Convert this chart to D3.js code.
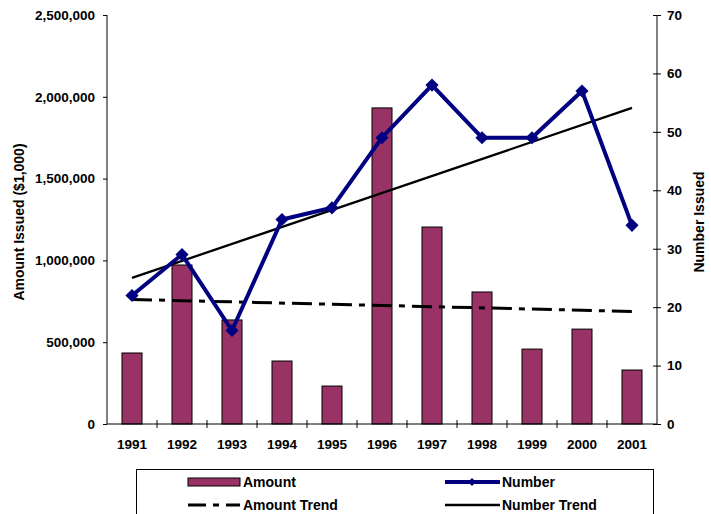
<!DOCTYPE html>
<html>
<head>
<meta charset="utf-8">
<script src="https://cdn.jsdelivr.net/npm/d3@7"></script>
<style>
  body { margin: 0; background: #fff; }
  text { font-family: Arial, "Liberation Sans", sans-serif; font-weight: bold; fill: #000; }
</style>
</head>
<body>
<div id="chart"></div>
<script>
// data
var years = ["1991","1992","1993","1994","1995","1996","1997","1998","1999","2000","2001"];
var amount = [434000, 972000, 636000, 385000, 232000, 1932000, 1204000, 807000, 458000, 580000, 330000];
var number = [22, 29, 16, 35, 37, 49, 58, 49, 49, 57, 34];
var leftTicks = [0, 500000, 1000000, 1500000, 2000000, 2500000];
var rightTicks = [0, 10, 20, 30, 40, 50, 60, 70];

var width = 711, height = 514;
var margin = {left: 107, right: 54, top: 15, bottom: 90};

var svg = d3.select("#chart").append("svg")
    .attr("width", width)
    .attr("height", height);

var x = d3.scaleBand()
    .domain(years)
    .range([margin.left, width - margin.right]);

var yLeft = d3.scaleLinear()
    .domain([0, 2500000])
    .range([height - margin.bottom, margin.top]);

var yRight = d3.scaleLinear()
    .domain([0, 70])
    .range([height - margin.bottom, margin.top]);

var cx = function(d, i) { return x(years[i]) + x.bandwidth() / 2; };

// linear trend (least squares), like the spreadsheet trendline
function trend(vals) {
    var n = vals.length, mx = (n - 1) / 2, my = d3.mean(vals);
    var num = 0, den = 0;
    vals.forEach(function(v, i) { num += (i - mx) * (v - my); den += (i - mx) * (i - mx); });
    var b = num / den, a = my - b * mx;
    return [a, a + b * (n - 1)];
}

// bars
svg.selectAll(".bar")
    .data(amount)
    .enter().append("rect")
    .attr("class", "bar")
    .attr("x", function(d, i) { return cx(d, i) - 10; })
    .attr("width", 20)
    .attr("y", function(d) { return yLeft(d); })
    .attr("height", function(d) { return yLeft(0) - yLeft(d); })
    .attr("fill", "#993366")
    .attr("stroke", "#000")
    .attr("stroke-width", 1);

// amount trend
var at = trend(amount);
svg.append("line")
    .attr("x1", cx(null, 0)).attr("x2", cx(null, years.length - 1))
    .attr("y1", yLeft(at[0])).attr("y2", yLeft(at[1]))
    .attr("stroke", "#000")
    .attr("stroke-width", 3)
    .attr("stroke-dasharray", "20,7,6,7");

// number trend
var nt = trend(number);
svg.append("line")
    .attr("x1", cx(null, 0)).attr("x2", cx(null, years.length - 1))
    .attr("y1", yRight(nt[0])).attr("y2", yRight(nt[1]))
    .attr("stroke", "#000")
    .attr("stroke-width", 2.3);

// number line
var line = d3.line()
    .x(function(d, i) { return cx(d, i); })
    .y(function(d) { return yRight(d); });

svg.append("path")
    .datum(number)
    .attr("d", line)
    .attr("fill", "none")
    .attr("stroke", "#000080")
    .attr("stroke-width", 4)
    .attr("stroke-linejoin", "round");

var diamond = d3.symbol().type(d3.symbolDiamond2).size(110);
svg.selectAll(".mark")
    .data(number)
    .enter().append("path")
    .attr("class", "mark")
    .attr("d", diamond)
    .attr("transform", function(d, i) { return "translate(" + cx(d, i) + "," + yRight(d) + ")"; })
    .attr("fill", "#000080");

// axes
var xAxis = svg.append("g")
    .attr("transform", "translate(0," + yLeft(0) + ")");
xAxis.append("line")
    .attr("x1", margin.left).attr("x2", width - margin.right)
    .attr("stroke", "#000");
var xTickPos = d3.range(years.length + 1).map(function(i) { return margin.left + i * x.bandwidth(); });
xAxis.selectAll(".xt")
    .data(xTickPos.slice(1, -1))
    .enter().append("line")
    .attr("x1", function(d) { return d; }).attr("x2", function(d) { return d; })
    .attr("y1", -4).attr("y2", 4)
    .attr("stroke", "#000");
xAxis.selectAll(".xl")
    .data(years)
    .enter().append("text")
    .attr("x", function(d) { return x(d) + x.bandwidth() / 2; })
    .attr("y", 25)
    .attr("text-anchor", "middle")
    .style("font-size", "13.5px")
    .text(function(d) { return d; });

var leftAxis = svg.append("g")
    .attr("transform", "translate(" + margin.left + ",0)")
    .call(d3.axisLeft(yLeft).tickValues(leftTicks).tickSize(4).tickPadding(8).tickFormat(d3.format(",")));
leftAxis.select(".domain").attr("stroke", "#000").attr("d", "M0," + margin.top + "V" + yLeft(0));
leftAxis.selectAll("text").style("font-size", "13.5px").attr("font-family", null);

var rightAxis = svg.append("g")
    .attr("transform", "translate(" + (width - margin.right) + ",0)")
    .call(d3.axisRight(yRight).tickValues(rightTicks).tickSize(4).tickPadding(6));
rightAxis.select(".domain").attr("stroke", "#000").attr("d", "M0," + margin.top + "V" + yRight(0));
rightAxis.selectAll(".tick line").attr("x1", -4);
rightAxis.selectAll("text").style("font-size", "13.5px").attr("font-family", null);

// axis titles
svg.append("text")
    .attr("transform", "translate(24,222) rotate(-90)")
    .attr("text-anchor", "middle")
    .style("font-size", "14px")
    .text("Amount Issued ($1,000)");

svg.append("text")
    .attr("transform", "translate(704,222) rotate(-90)")
    .attr("text-anchor", "middle")
    .style("font-size", "14px")
    .text("Number Issued");

// legend
var legend = svg.append("g");
legend.append("rect")
    .attr("x", 136.5).attr("y", 469.5)
    .attr("width", 517).attr("height", 60)
    .attr("fill", "#fff")
    .attr("stroke", "#000");

legend.append("rect")
    .attr("x", 188).attr("y", 478).attr("width", 52).attr("height", 8)
    .attr("fill", "#993366").attr("stroke", "#000");
legend.append("text").attr("x", 243).attr("y", 487).style("font-size", "14px").text("Amount");

legend.append("line")
    .attr("x1", 188).attr("x2", 240).attr("y1", 505).attr("y2", 505)
    .attr("stroke", "#000").attr("stroke-width", 3)
    .attr("stroke-dasharray", "18,7,6,7");
legend.append("text").attr("x", 243).attr("y", 510).style("font-size", "14px").text("Amount Trend");

legend.append("line")
    .attr("x1", 445).attr("x2", 500).attr("y1", 482).attr("y2", 482)
    .attr("stroke", "#000080").attr("stroke-width", 4);
legend.append("path")
    .attr("d", d3.symbol().type(d3.symbolDiamond2).size(40))
    .attr("transform", "translate(472,482)")
    .attr("fill", "#000080");
legend.append("text").attr("x", 502).attr("y", 487).style("font-size", "14px").text("Number");

legend.append("line")
    .attr("x1", 445).attr("x2", 500).attr("y1", 505).attr("y2", 505)
    .attr("stroke", "#000").attr("stroke-width", 2.3);
legend.append("text").attr("x", 502).attr("y", 510).style("font-size", "14px").text("Number Trend");
</script>
</body>
</html>
